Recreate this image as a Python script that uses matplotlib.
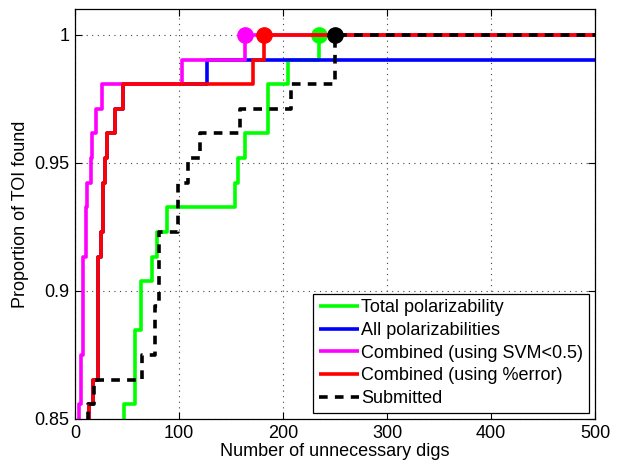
import matplotlib
matplotlib.use("Agg")
import matplotlib.pyplot as plt
import numpy as np

plt.rcParams['font.family'] = ['Liberation Sans', 'DejaVu Sans']

# Total number of targets of interest (TOI)
N_TOI = 104
X_MAX = 500

# Each curve: number of unnecessary digs at which the found-count steps up,
# and the found-count reached at that point.
total_pol_x = [0, 47, 57.7, 63.5, 73.7, 79, 88, 154, 157, 163.5, 186, 205, 234.6]
total_pol_k = [80, 89, 92, 94, 95, 96, 97, 98, 99, 100, 102, 103, 104]

all_pol_x = [0, 13.8, 17, 22.4, 24.7, 26.6, 28.8, 31, 38.5, 46.5, 127]
all_pol_k = [85, 89, 90, 95, 96, 98, 99, 100, 101, 102, 103]

svm_x = [0, 4.1, 5.8, 7.4, 10.1, 11.8, 15.1, 16.1, 19.9, 26.3, 102.9, 163.5]
svm_k = [85, 89, 91, 95, 97, 98, 99, 100, 101, 102, 103, 104]

pcterr_x = [0, 13.8, 17, 22.4, 24.7, 26.6, 28.8, 31, 38.5, 46.5, 171, 181.5]
pcterr_k = [85, 89, 90, 95, 96, 98, 99, 100, 101, 102, 103, 104]

submitted_x = [0, 12.8, 18.3, 64, 77, 80.5, 99.4, 109, 120, 158.7, 207.7, 250]
submitted_k = [85, 89, 90, 91, 93, 96, 98, 99, 100, 101, 102, 104]

labels = ["Total polarizability", "All polarizabilities",
          "Combined (using SVM<0.5)", "Combined (using %error)", "Submitted"]

series = [
    (total_pol_x, total_pol_k, (0, 1, 0), '-'),
    (all_pol_x, all_pol_k, (0, 0, 1), '-'),
    (svm_x, svm_k, (1, 0, 1), '-'),
    (pcterr_x, pcterr_k, (1, 0, 0), '-'),
    (submitted_x, submitted_k, (0, 0, 0), '--'),
]

fig = plt.figure(figsize=(6.19, 4.67), dpi=100)
ax = fig.add_axes([75 / 619, 1 - 419 / 467, 520 / 619, (419 - 9.4) / 467])

lw = 2.6
for (xs, ks, color, ls), label in zip(series, labels):
    xs = list(xs) + [X_MAX]
    ys = [k / N_TOI for k in ks] + [ks[-1] / N_TOI]
    line, = ax.step(xs, ys, where='post', color=color, lw=lw, label=label,
                    solid_capstyle='butt')
    if ls == '--':
        line.set_dashes((2.4, 2.0))
    if ks[-1] == N_TOI:
        ax.plot([xs[-2]], [1.0], 'o', color=color, ms=11, zorder=line.get_zorder())

ax.set_xlim(0, X_MAX)
ax.set_ylim(0.85, 1.01)
ax.set_xticks([0, 100, 200, 300, 400, 500])
ax.set_yticks([0.85, 0.9, 0.95, 1.0])
ax.set_yticklabels(["0.85", "0.9", "0.95", "1"])
ax.tick_params(direction='in', top=True, right=True, length=5, width=0.8,
               labelsize=13, pad=4)
ax.grid(True, linestyle=(0, (1, 4)), color='#444444', linewidth=0.8)
for s in ax.spines.values():
    s.set_linewidth(0.9)

ax.set_xlabel("Number of unnecessary digs", fontsize=13, labelpad=1)
ax.set_ylabel("Proportion of TOI found", fontsize=13, labelpad=4)

leg = ax.legend(loc='lower right', fontsize=13, frameon=True, fancybox=False,
                edgecolor='black', framealpha=1, handlelength=2.2,
                handletextpad=0.15, labelspacing=0.32, borderpad=0.3,
                borderaxespad=0.35)
leg.get_frame().set_linewidth(0.9)

fig.savefig("out.png", dpi=100)
